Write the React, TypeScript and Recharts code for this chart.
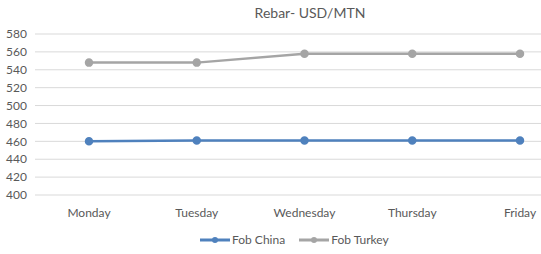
import {
  CartesianGrid,
  Legend,
  Line,
  LineChart,
  XAxis,
  YAxis,
} from "recharts";

const days = ["Monday", "Tuesday", "Wednesday", "Thursday", "Friday"];
const fobChina = [460, 461, 461, 461, 461];
const fobTurkey = [548, 548, 558, 558, 558];
const yTicks = [400, 420, 440, 460, 480, 500, 520, 540, 560, 580];

const data = days.map((day, i) => ({
  day,
  china: fobChina[i],
  turkey: fobTurkey[i],
}));

const FONT = "Lato, 'Open Sans', sans-serif";
const TEXT = "#595959";
const BLUE = "#4f81bd";
const GRAY = "#a5a5a5";

function LegendContent() {
  const item = (color: string, label: string) => (
    <div style={{ display: "flex", alignItems: "center", marginRight: 14 }}>
      <svg width={30} height={10}>
        <line x1={0} y1={5} x2={30} y2={5} stroke={color} strokeWidth={3} />
        <circle cx={15} cy={5} r={3} fill={color} />
      </svg>
      <span style={{ marginLeft: 2, fontSize: 12, color: TEXT, fontFamily: FONT }}>
        {label}
      </span>
    </div>
  );
  return (
    <div
      style={{
        height: 29,
        display: "flex",
        alignItems: "center",
        justifyContent: "flex-start",
        paddingLeft: 200,
      }}
    >
      {item(BLUE, "Fob China")}
      {item(GRAY, "Fob Turkey")}
    </div>
  );
}

export default function App() {
  return (
    <div
      style={{
        position: "absolute",
        left: 0,
        top: 0,
        width: 541,
        height: 254,
        overflow: "hidden",
        background: "#fff",
        fontFamily: FONT,
      }}
    >
      <div
        style={{
          position: "absolute",
          top: 4,
          left: 240,
          width: 140,
          textAlign: "center",
          fontSize: 14,
          color: TEXT,
        }}
      >
        Rebar- USD/MTN
      </div>
      <LineChart
        width={574}
        height={254}
        data={data}
        margin={{ top: 34, right: 0, left: 0, bottom: 0 }}
      >
        <CartesianGrid vertical={false} stroke="#d9d9d9" />
        <XAxis
          dataKey="day"
          axisLine={false}
          tickLine={false}
          height={30}
          tickMargin={7}
          padding={{ left: 54, right: 54 }}
          tick={{ fill: TEXT, fontSize: 12, fontFamily: FONT }}
        />
        <YAxis
          domain={[400, 580]}
          ticks={yTicks}
          width={35}
          axisLine={false}
          tickLine={false}
          interval={0}
          tick={{ fill: TEXT, fontSize: 12, fontFamily: FONT }}
        />
        <Legend
          verticalAlign="bottom"
          align="left"
          content={() => <LegendContent />}
        />
        <Line
          dataKey="china"
          stroke={BLUE}
          strokeWidth={2.5}
          dot={{ r: 3, fill: BLUE, stroke: BLUE }}
          isAnimationActive={false}
        />
        <Line
          dataKey="turkey"
          stroke={GRAY}
          strokeWidth={2.5}
          dot={{ r: 3, fill: GRAY, stroke: GRAY }}
          isAnimationActive={false}
        />
      </LineChart>
    </div>
  );
}
